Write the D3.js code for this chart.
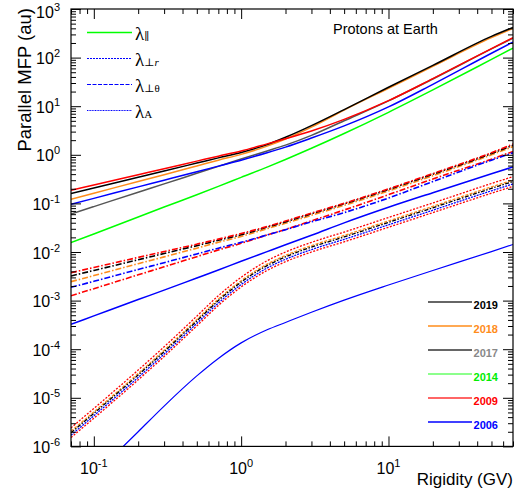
<!DOCTYPE html>
<html>
<head>
<meta charset="utf-8">
<script src="https://cdn.jsdelivr.net/npm/d3@7"></script>
<style>
  body { margin: 0; background: #fff; }
  text { font-family: "Liberation Sans", Arial, sans-serif; }
</style>
</head>
<body>
<svg id="chart"></svg>
<script>
// rigidity grid (GV) shared by all curves
var rigidity = [0.07, 0.1, 0.2, 0.3, 0.5, 0.7, 1, 1.5, 2, 3, 5, 10, 20, 50, 70];

// solid curves (top bundle)
var solidRed    = [0.187, 0.24, 0.39, 0.518, 0.741, 0.938, 1.20, 1.68, 2.14, 3.09, 5.35, 13.0, 36.9, 153, 257];
var solidBlack  = [0.160, 0.207, 0.345, 0.465, 0.676, 0.865, 1.12, 1.62, 2.29, 3.98, 8.51, 24.5, 69.2, 273, 417];
var solidOrange = [0.122, 0.162, 0.282, 0.389, 0.589, 0.776, 1.02, 1.51, 2.12, 3.72, 8.32, 23.4, 66.1, 257, 398];
var solidBlue   = [0.0962, 0.127, 0.219, 0.300, 0.447, 0.585, 0.776, 1.10, 1.44, 2.21, 3.93, 9.68, 28.2, 123, 209];
var solidGray   = [0.0605, 0.0859, 0.170, 0.252, 0.416, 0.578, 0.820, 1.20, 1.58, 2.51, 5.01, 12.9, 36.3, 151, 251];
var solidGreen  = [0.01556, 0.0235, 0.0525, 0.0841, 0.151, 0.224, 0.344, 0.558, 0.80, 1.36, 2.74, 7.48, 21.6, 92.0, 157];

// dash-dot curves (middle bundle)
var midRedTop   = [0.00375, 0.0048, 0.00774, 0.0102, 0.0145, 0.0184, 0.024, 0.0335, 0.0433, 0.0631, 0.1005, 0.199, 0.411, 1.107, 1.66];
var midBlack    = [0.00321, 0.00417, 0.00692, 0.00933, 0.0135, 0.0174, 0.0226, 0.0324, 0.0417, 0.061, 0.0977, 0.193, 0.398, 1.06, 1.58];
var midOrange   = [0.00245, 0.00327, 0.00575, 0.00794, 0.0120, 0.0158, 0.0209, 0.0302, 0.0389, 0.0569, 0.0912, 0.180, 0.372, 1.0, 1.48];
var midBlue     = [0.001875, 0.00249, 0.00437, 0.00603, 0.00912, 0.0120, 0.0158, 0.0224, 0.0288, 0.0417, 0.0646, 0.129, 0.282, 0.776, 1.10];
var midRedLow   = [0.00126, 0.00176, 0.00339, 0.00495, 0.00802, 0.0110, 0.0151, 0.0224, 0.0292, 0.0437, 0.0731, 0.151, 0.318, 0.813, 1.17];
var midBlueLine = [3.25e-4, 4.84e-4, 1.05e-3, 1.64e-3, 2.92e-3, 4.27e-3, 6.46e-3, 0.0102, 0.0141, 0.0221, 0.0398, 0.0832, 0.166, 0.407, 0.562];

// steep band (lower bundle)
var bandRedTop  = [2.40e-6, 6.03e-6, 3.72e-5, 1.12e-4, 4.79e-4, 1.26e-3, 3.02e-3, 6.61e-3, 0.0100, 0.0158, 0.0257, 0.0513, 0.102, 0.257, 0.355];
var bandOrange  = [2.05e-6, 5.13e-6, 3.16e-5, 9.55e-5, 4.07e-4, 1.07e-3, 2.57e-3, 5.62e-3, 8.51e-3, 0.0135, 0.0219, 0.0436, 0.0871, 0.219, 0.302];
var bandBlack   = [1.91e-6, 4.79e-6, 2.95e-5, 8.91e-5, 3.80e-4, 1.0e-3, 2.40e-3, 5.25e-3, 7.94e-3, 0.0126, 0.0204, 0.0407, 0.0813, 0.204, 0.282];
var bandBlue    = [1.70e-6, 4.27e-6, 2.63e-5, 7.94e-5, 3.39e-4, 8.91e-4, 2.14e-3, 4.68e-3, 7.08e-3, 0.0112, 0.0182, 0.0363, 0.0724, 0.182, 0.251];
var bandRedLow  = [1.52e-6, 3.80e-6, 2.34e-5, 7.08e-5, 3.02e-4, 7.94e-4, 1.91e-3, 4.17e-3, 6.31e-3, 0.0100, 0.0162, 0.0323, 0.0646, 0.162, 0.224];

// lowest blue curve
var lowBlue     = [7.9e-8, 2.5e-7, 2.0e-6, 6.76e-6, 2.82e-5, 6.46e-5, 1.35e-4, 2.51e-4, 3.55e-4, 5.75e-4, 1.02e-3, 2.09e-3, 4.17e-3, 0.0102, 0.0143];

// legends
var years = ["2019", "2018", "2017", "2014", "2009", "2006"];
var yearLine = ["#333333", "#ff8c1a", "#333333", "#66ff66", "#ff3333", "#0000ff"];
var yearText = ["#000000", "#ff8c1a", "#888888", "#00ee00", "#ff0000", "#0000ff"];
var lambdaSubs = ["\u2225", "\u22a5r", "\u22a5\u03b8", "A"];

var xDecades = [-1, 0, 1];
var yDecades = [-6, -5, -4, -3, -2, -1, 0, 1, 2, 3];

var W = 515, H = 496;
var pLeft = 71, pRight = 513, pTop = 9, pBottom = 446.4;

var svg = d3.select("#chart").attr("width", W).attr("height", H);

var x = d3.scaleLog().domain([0.07, 70]).range([pLeft, pRight]);
var y = d3.scaleLog().domain([1e-6, 1e3]).range([pBottom, pTop]);

// styles for the curves
var curves = [
  {v: solidGreen, c: "#00ff00", w: 1.5, d: null},
  {v: solidGray, c: "#555555", w: 1.5, d: null},
  {v: solidBlue, c: "#0000ff", w: 1.5, d: null},
  {v: solidOrange, c: "#ff8c1a", w: 1.5, d: null},
  {v: solidBlack, c: "#000000", w: 1.5, d: null},
  {v: solidRed, c: "#ff0000", w: 1.5, d: null},
  {v: midBlueLine, c: "#0000ff", w: 1.5, d: null},
  {v: midRedLow, c: "#ff0000", w: 1.6, d: "6,2,1.5,2"},
  {v: midBlue, c: "#0000ff", w: 1.6, d: "6,2,1.5,2"},
  {v: midOrange, c: "#ff8c1a", w: 1.6, d: "6,2,1.5,2"},
  {v: midBlack, c: "#000000", w: 1.6, d: "6,2,1.5,2"},
  {v: midRedTop, c: "#ff0000", w: 1.6, d: "6,2,1.5,2"},
  {v: bandRedLow, c: "#ff0000", w: 1.3, d: "2,1.5"},
  {v: bandBlue, c: "#0000ff", w: 1.3, d: "2,1"},
  {v: bandOrange, c: "#ff8c1a", w: 1.3, d: "3,1.5"},
  {v: bandBlack, c: "#000000", w: 1.3, d: "4,1.5,1.5,1.5"},
  {v: bandRedTop, c: "#ff0000", w: 1.3, d: "2,1.5"},
  {v: lowBlue, c: "#0000ff", w: 1.2, d: null}
];

svg.append("clipPath").attr("id", "plotclip")
  .append("rect")
  .attr("x", pLeft).attr("y", pTop)
  .attr("width", pRight - pLeft).attr("height", pBottom - pTop);

var line = d3.line()
  .x(function(d) { return x(d[0]); })
  .y(function(d) { return y(d[1]); })
  .curve(d3.curveMonotoneX);

svg.append("g").attr("clip-path", "url(#plotclip)")
  .selectAll("path")
  .data(curves)
  .enter().append("path")
  .attr("d", function(s) { return line(rigidity.map(function(r, i) { return [r, s.v[i]]; })); })
  .style("fill", "none")
  .style("stroke", function(s) { return s.c; })
  .style("stroke-width", function(s) { return s.w; })
  .style("stroke-dasharray", function(s) { return s.d; });

// tick values
var xMajor = xDecades.map(function(e) { return Math.pow(10, e); });
var xMinor = [0.07, 0.08, 0.09];
[-1, 0, 1].forEach(function(e) {
  for (var k = 2; k <= 9; k++) {
    var v = k * Math.pow(10, e);
    if (v <= 70) xMinor.push(v);
  }
});
var yMajor = yDecades.map(function(e) { return Math.pow(10, e); });
var yMinor = [];
yDecades.slice(0, -1).forEach(function(e) {
  for (var k = 2; k <= 9; k++) yMinor.push(k * Math.pow(10, e));
});

function ticks(axis, pos, vals, len) {
  var g = svg.append("g")
    .attr("transform", pos)
    .call(axis.tickValues(vals).tickSize(len).tickFormat(function() { return ""; }));
  g.select(".domain").remove();
  g.selectAll("line").style("stroke", "#000");
}

// ticks on all four sides, pointing inwards
ticks(d3.axisBottom(x), "translate(0," + pBottom + ")", xMajor, -10);
ticks(d3.axisBottom(x), "translate(0," + pBottom + ")", xMinor, -5);
ticks(d3.axisTop(x), "translate(0," + pTop + ")", xMajor, -10);
ticks(d3.axisTop(x), "translate(0," + pTop + ")", xMinor, -5);
ticks(d3.axisLeft(y), "translate(" + pLeft + ",0)", yMajor, -10);
ticks(d3.axisLeft(y), "translate(" + pLeft + ",0)", yMinor, -5);
ticks(d3.axisRight(y), "translate(" + pRight + ",0)", yMajor, -10);
ticks(d3.axisRight(y), "translate(" + pRight + ",0)", yMinor, -5);

svg.append("rect")
  .attr("x", pLeft).attr("y", pTop)
  .attr("width", pRight - pLeft).attr("height", pBottom - pTop)
  .style("fill", "none").style("stroke", "#000").style("stroke-width", 1.2);

// power-of-ten labels
function powLabel(t, e) {
  t.append("tspan").text("10");
  t.append("tspan").attr("dy", -7).style("font-size", "11px").text(e);
}

xDecades.forEach(function(e) {
  var t = svg.append("text")
    .attr("x", x(Math.pow(10, e)))
    .attr("y", 474)
    .style("text-anchor", "middle")
    .style("font-size", "16px");
  powLabel(t, e);
});

yDecades.forEach(function(e) {
  // the top label sits a bit lower so it stays inside the page
  var shift = e == 3 ? 9 : 6.5;
  var t = svg.append("text")
    .attr("x", 60)
    .attr("y", y(Math.pow(10, e)) + shift)
    .style("text-anchor", "end")
    .style("font-size", "16px");
  powLabel(t, e);
});

// axis titles
svg.append("text")
  .attr("transform", "translate(31,8) rotate(-90)")
  .style("text-anchor", "end")
  .style("font-size", "18.5px")
  .text("Parallel MFP (au)");

svg.append("text")
  .attr("x", 513).attr("y", 485)
  .style("text-anchor", "end")
  .style("font-size", "17px")
  .text("Rigidity (GV)");

svg.append("text")
  .attr("x", 333).attr("y", 34)
  .style("font-size", "14.5px")
  .text("Protons at Earth");

// lambda legend (top left)
var lamStyles = [
  {c: "#00ff00", d: null, w: 1.3},
  {c: "#0000ff", d: "2,1", w: 1},
  {c: "#0000ff", d: "4,1.5", w: 1},
  {c: "#0000ff", d: "1,0.6", w: 1.2}
];
lambdaSubs.forEach(function(s, i) {
  var ly = 32.5 + i * 26;
  svg.append("line")
    .attr("x1", 87).attr("x2", 132)
    .attr("y1", ly).attr("y2", ly)
    .style("stroke", lamStyles[i].c)
    .style("stroke-width", lamStyles[i].w)
    .style("stroke-dasharray", lamStyles[i].d);
  var t = svg.append("text")
    .attr("x", 135).attr("y", ly + 7)
    .style("font-family", "'Liberation Serif', 'DejaVu Serif', serif")
    .style("font-size", "19px")
    .text("\u03bb");
  t.append("tspan")
    .style("font-size", "11px")
    .text(s.charAt(0));
  if (s.length > 1) {
    t.append("tspan")
      .style("font-size", "11px")
      .style("font-style", s.charAt(1) == "r" ? "italic" : "normal")
      .text(s.charAt(1));
  }
});

// year legend (bottom right)
years.forEach(function(yr, i) {
  var ly = 302 + i * 24;
  svg.append("line")
    .attr("x1", 428).attr("x2", 472)
    .attr("y1", ly).attr("y2", ly)
    .style("stroke", yearLine[i])
    .style("stroke-width", 1.3);
  svg.append("text")
    .attr("x", 498).attr("y", ly + 7)
    .style("text-anchor", "end")
    .style("font-size", "11px")
    .style("font-weight", "bold")
    .style("fill", yearText[i])
    .text(yr);
});
</script>
</body>
</html>
